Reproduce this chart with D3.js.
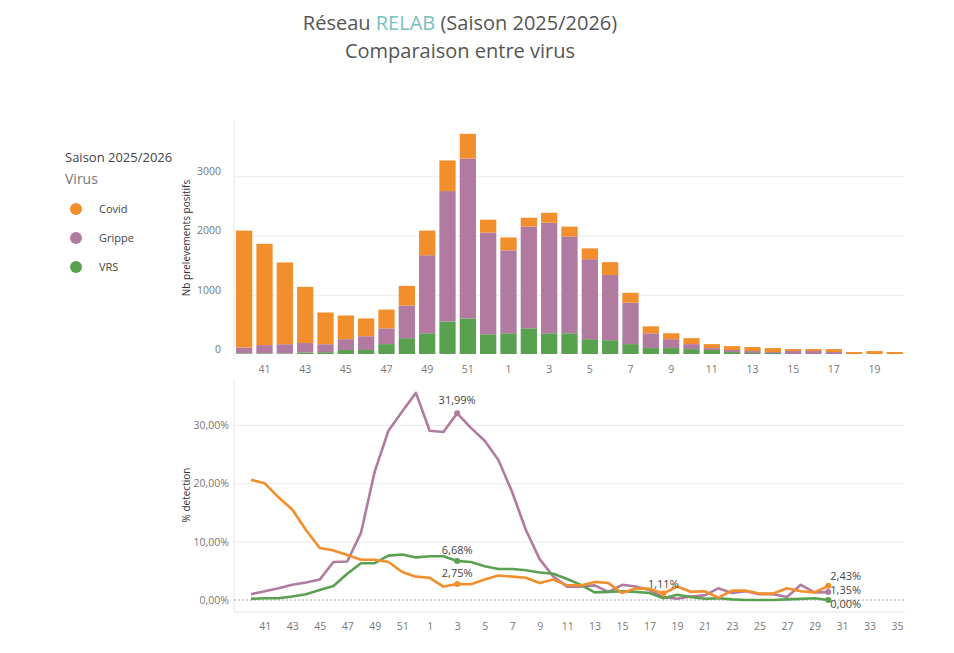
<!DOCTYPE html>
<html><head><meta charset="utf-8">
<script src="https://cdn.jsdelivr.net/npm/d3@7"></script>
<style>
body{margin:0;background:#fff;font-family:"Open Sans",sans-serif;}
.grid line{stroke:#ececec;} .grid path{display:none;}
.ax text{fill:#777;font-size:10.5px;font-family:"Open Sans",sans-serif;} .ax path,.ax line{display:none;}
</style></head><body>
<div id="chart"></div>
<script>
// weeks of the season
var barWeeks = [40,41,42,43,44,45,46,47,48,49,50,51,52,1,2,3,4,5,6,7,8,9,10,11,12,13,14,15,16,17,18,19,20];
// stacked bar values: VRS, Grippe, Covid (Covid = total minus the others)
var barVrs    = [10,10,10,25,30,67,67,167,267,350,550,600,333,350,433,350,350,250,233,167,100,100,83,67,33,17,17,0,0,0,0,0,0];
var barGrippe = [100,140,155,160,135,183,233,266,550,1317,2200,2700,1717,1400,1717,1867,1633,1350,1100,700,250,150,84,33,34,33,16,50,50,33,0,0,0];
var barTotal  = [2083,1860,1545,1133,700,650,600,750,1150,2083,3267,3717,2267,1967,2300,2383,2150,1783,1550,1033,467,350,267,167,133,117,100,83,83,83,33,50,33];

var lineWeeks = [40,41,42,43,44,45,46,47,48,49,50,51,52,1,2,3,4,5,6,7,8,9,10,11,12,13,14,15,16,17,18,19,20,21,22,23,24,25,26,27,28,29,30,31,32,33,34,35];
var pctGrippe = [1.0,1.5,2.0,2.6,3.0,3.5,6.5,6.6,11.5,22,29,32.3,35.5,29,28.8,31.99,29.5,27.3,24,18.5,12,7,4,2.3,2.3,2.5,1.4,2.6,2.3,1.7,0.5,0.2,0.6,0.8,2.0,1.2,1.5,1.0,1.0,0.5,2.6,1.3,1.35];
var pctCovid  = [20.6,20,17.6,15.5,12,8.9,8.5,7.7,6.9,6.9,6.5,4.8,4.0,3.8,2.3,2.75,2.7,3.5,4.2,4.0,3.8,2.9,3.5,2.5,2.5,3.1,2.9,1.2,2.0,1.9,1.11,2.3,1.4,1.5,0.4,1.6,1.6,1.1,1.1,2.0,1.5,1.3,2.43];
var pctVrs    = [0.2,0.3,0.3,0.6,1.0,1.7,2.4,4.5,6.3,6.3,7.6,7.8,7.3,7.5,7.5,6.68,6.5,5.8,5.3,5.3,5.1,4.7,4.5,3.6,2.6,1.3,1.4,1.5,1.4,1.2,0.3,0.9,0.5,0.2,0.3,0.1,0.0,0.0,0.0,0.1,0.2,0.3,0.0];
// annotated points [series, week index, text]
var labels = [["Grippe",15,"31,99%"],["VRS",15,"6,68%"],["Covid",15,"2,75%"],["Covid",30,"1,11%"],["Covid",42,"2,43%"],["Grippe",42,"1,35%"],["VRS",42,"0,00%"]];

var colors = {Covid:"#f28e2b", Grippe:"#b07aa1", VRS:"#59a14f"};
var W = 954, H = 653, left = 234, right = 905;

var svg = d3.select("#chart").append("svg").attr("width", W).attr("height", H);

// titles
var t = svg.append("text").attr("x", 460).attr("y", 30).attr("text-anchor", "middle")
    .style("font-size", "20px").style("fill", "#555");
t.append("tspan").text("Réseau ");
t.append("tspan").text("RELAB").style("fill", "#76c1bd");
t.append("tspan").text(" (Saison 2025/2026)");
svg.append("text").attr("x", 460).attr("y", 58).attr("text-anchor", "middle")
    .style("font-size", "20px").style("fill", "#555").text("Comparaison entre virus");

// legend
svg.append("text").attr("x", 65).attr("y", 162).style("font-size", "13px").style("fill", "#444").text("Saison 2025/2026");
svg.append("text").attr("x", 65).attr("y", 184).style("font-size", "14px").style("fill", "#777").text("Virus");
["Covid","Grippe","VRS"].forEach(function(k, i) {
    svg.append("circle").attr("cx", 76).attr("cy", 209 + i * 29).attr("r", 6).attr("fill", colors[k]);
    svg.append("text").attr("x", 99).attr("y", 213 + i * 29).style("font-size", "11px").style("fill", "#444").text(k);
});

// ---- bar chart
var xBar = d3.scaleBand().domain(barWeeks).range([left, right]).paddingInner(0.2).paddingOuter(0.1);
var yBar = d3.scaleLinear().domain([0, 3950]).range([354, 120]);

svg.append("g").attr("class", "grid").attr("transform", "translate(" + left + ",0)")
    .call(d3.axisLeft(yBar).tickValues([1000,2000,3000]).tickSize(-(right - left)).tickFormat(""));
svg.append("line").attr("x1", left).attr("x2", left).attr("y1", 120).attr("y2", 360).attr("stroke", "#e6e6e6");
svg.append("g").attr("class", "ax").attr("transform", "translate(" + (left - 4) + ",-5)")
    .call(d3.axisLeft(yBar).tickValues([0,1000,2000,3000]).tickFormat(d3.format("d")));
svg.append("g").attr("class", "ax").attr("transform", "translate(0,357)")
    .call(d3.axisBottom(xBar).tickValues(barWeeks.filter(function(w) { return w % 2 === 1; })));
svg.append("text").attr("transform", "translate(190,238) rotate(-90)").attr("text-anchor", "middle")
    .style("font-size", "10px").style("fill", "#333").text("Nb prelevements positifs");

var stacks = barWeeks.map(function(w, i) {
    return [[0, barVrs[i], "VRS"], [barVrs[i], barVrs[i] + barGrippe[i], "Grippe"], [barVrs[i] + barGrippe[i], barTotal[i], "Covid"]]
        .map(function(s) { return {w: w, y0: s[0], y1: s[1], k: s[2]}; });
});
svg.append("g").selectAll("rect").data(stacks.flat().filter(function(d) { return d.y1 > d.y0; }))
    .enter().append("rect")
    .attr("x", function(d) { return xBar(d.w); })
    .attr("width", xBar.bandwidth())
    .attr("y", function(d) { return yBar(d.y1); })
    .attr("height", function(d) { return yBar(d.y0) - yBar(d.y1); })
    .attr("fill", function(d) { return colors[d.k]; });

// ---- line chart
var xLine = d3.scaleLinear().domain([0, lineWeeks.length - 1]).range([251, 897]);
var yLine = d3.scaleLinear().domain([0, 37.7]).range([600, 380]);

svg.append("g").attr("class", "grid").attr("transform", "translate(" + left + ",0)")
    .call(d3.axisLeft(yLine).tickValues([10,20,30]).tickSize(-(right - left)).tickFormat(""));
svg.append("line").attr("x1", left).attr("x2", left).attr("y1", 380).attr("y2", 612).attr("stroke", "#e6e6e6");
svg.append("line").attr("x1", left).attr("x2", right).attr("y1", 612).attr("y2", 612).attr("stroke", "#e6e6e6");
svg.append("line").attr("x1", left).attr("x2", right).attr("y1", yLine(0)).attr("y2", yLine(0))
    .attr("stroke", "#aaa").attr("stroke-dasharray", "2,2");
svg.append("g").attr("class", "ax").attr("transform", "translate(" + (left + 4) + ",0)")
    .call(d3.axisLeft(yLine).tickValues([0,10,20,30]).tickFormat(function(d) { return d.toFixed(2).replace(".", ",") + "%"; }));
svg.append("g").attr("class", "ax").attr("transform", "translate(0,614)")
    .call(d3.axisBottom(xLine).tickValues(d3.range(lineWeeks.length).filter(function(i) { return lineWeeks[i] % 2 === 1; }))
        .tickFormat(function(i) { return lineWeeks[i]; }));
svg.append("text").attr("transform", "translate(190,495) rotate(-90)").attr("text-anchor", "middle")
    .style("font-size", "10px").style("fill", "#333").text("% detection");

var series = {Grippe: pctGrippe, Covid: pctCovid, VRS: pctVrs};
var line = d3.line().x(function(d, i) { return xLine(i); }).y(function(d) { return yLine(d); });
["Grippe","VRS","Covid"].forEach(function(k) {
    svg.append("path").datum(series[k]).attr("d", line).attr("fill", "none")
        .attr("stroke", colors[k]).attr("stroke-width", 2.6).attr("stroke-linejoin", "round");
});

var dy = {"31,99%": -12, "6,68%": -10, "2,75%": -10, "1,11%": -8, "2,43%": -9, "1,35%": -1, "0,00%": 5};
labels.forEach(function(l) {
    var x = xLine(l[1]), y = yLine(series[l[0]][l[1]]);
    svg.append("circle").attr("cx", x).attr("cy", y).attr("r", 3).attr("fill", colors[l[0]]);
    var end = l[1] === 42;
    svg.append("text").attr("x", end ? x + 2 : x).attr("y", y + dy[l[2]])
        .attr("text-anchor", end ? "start" : "middle").attr("dominant-baseline", "middle")
        .style("font-size", "11px").style("fill", "#444").text(l[2]);
});
</script></body></html>
